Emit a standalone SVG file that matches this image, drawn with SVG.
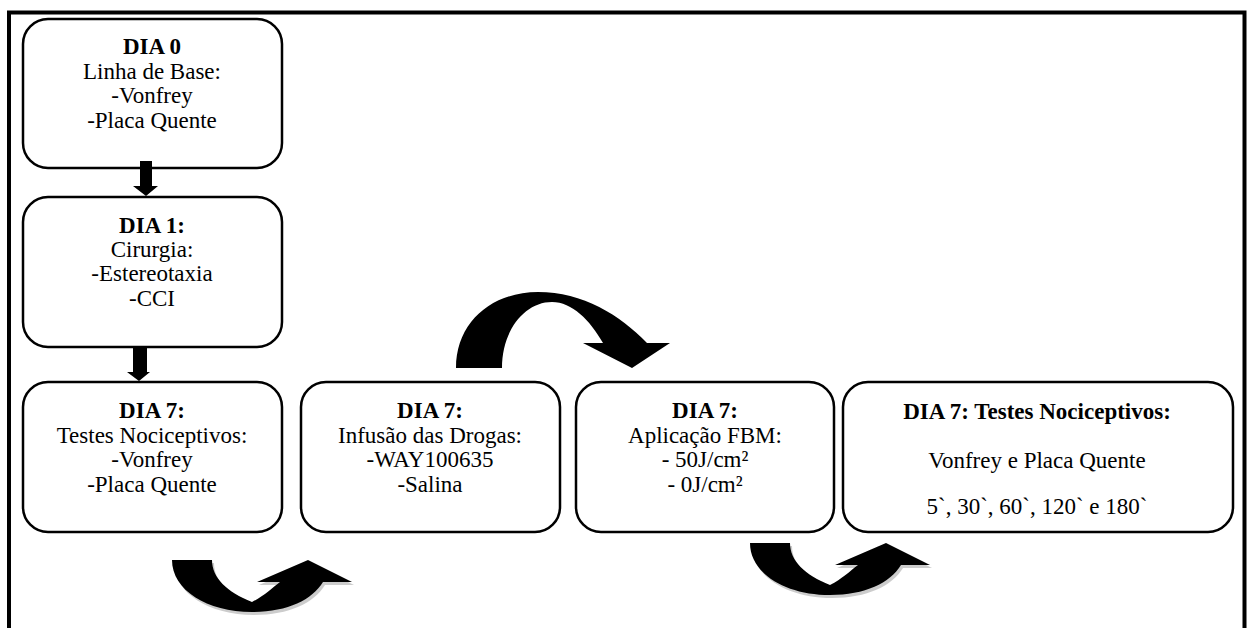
<svg xmlns="http://www.w3.org/2000/svg" width="1248" height="628" viewBox="0 0 1248 628">
<style>
.box{fill:#fff;stroke:#000;stroke-width:2.5}
.t{font-family:"Liberation Serif","Times New Roman",serif;font-size:23px;fill:#000;text-anchor:middle}
.b{font-weight:bold}
.arr{fill:#000}
.sh{fill:#999;opacity:0.5}
</style>
<defs>
<path id="uarrow" d="M0,0 L40,0 C40,18 55,32 80,42 C92,36 100,28 108,22 L85,22 L136,0 L180,22 L151,22 C140,40 115,52 80,52 C35,52 0,30 0,0 Z"/>
</defs>
<rect width="1248" height="628" fill="#fff"/>
<path d="M9,628 V12.5 H1244.5 V628" fill="none" stroke="#000" stroke-width="4"/>

<g id="n0">
<rect class="box" x="23" y="19" width="259" height="149" rx="25"/>
<text class="t b" x="152" y="54">DIA 0</text>
<text class="t" x="152" y="79">Linha de Base:</text>
<text class="t" x="152" y="103">-Vonfrey</text>
<text class="t" x="152" y="128">-Placa Quente</text>
</g>
<g id="n1">
<rect class="box" x="23" y="197" width="259" height="150" rx="25"/>
<text class="t b" x="152" y="233">DIA 1:</text>
<text class="t" x="152" y="257">Cirurgia:</text>
<text class="t" x="152" y="281">-Estereotaxia</text>
<text class="t" x="152" y="306">-CCI</text>
</g>
<g id="n2">
<rect class="box" x="23" y="382" width="259" height="150" rx="25"/>
<text class="t b" x="152" y="418">DIA 7:</text>
<text class="t" x="152" y="443">Testes Nociceptivos:</text>
<text class="t" x="152" y="467">-Vonfrey</text>
<text class="t" x="152" y="492">-Placa Quente</text>
</g>
<g id="n3">
<rect class="box" x="301" y="382" width="259" height="150" rx="25"/>
<text class="t b" x="430" y="418">DIA 7:</text>
<text class="t" x="430" y="443">Infusão das Drogas:</text>
<text class="t" x="430" y="467">-WAY100635</text>
<text class="t" x="430" y="492">-Salina</text>
</g>
<g id="n4">
<rect class="box" x="576" y="382" width="258" height="150" rx="25"/>
<text class="t b" x="705" y="418">DIA 7:</text>
<text class="t" x="705" y="443">Aplicação FBM:</text>
<text class="t" x="705" y="467">- 50J/cm²</text>
<text class="t" x="705" y="492">- 0J/cm²</text>
</g>
<g id="n5">
<rect class="box" x="843" y="382" width="390" height="150" rx="25"/>
<text class="t b" x="1037" y="419">DIA 7: Testes Nociceptivos:</text>
<text class="t" x="1037" y="468">Vonfrey e Placa Quente</text>
<text class="t" x="1037" y="514">5`, 30`, 60`, 120` e 180`</text>
</g>

<g id="connectors">
<path class="arr" d="M140,161 H152 V186 H158 L146,196 L133,186 H140 Z"/>
<path class="arr" d="M133,347 H147 V372 H150 L139,381 L127,372 H133 Z"/>
<path class="arr" d="M456,368 C456,322 492,292 538,292 C583,292 620,315 647,343 L670,343 L632,368 L583,343 L603,343 C590,320 572,302 552,302 C525,302 502,330 502,368 Z"/>
<use href="#uarrow" class="sh" transform="translate(174,563)"/>
<use href="#uarrow" class="arr" transform="translate(172,560)"/>
<use href="#uarrow" class="sh" transform="translate(752,546)"/>
<use href="#uarrow" class="arr" transform="translate(750,543)"/>
</g>
</svg>
